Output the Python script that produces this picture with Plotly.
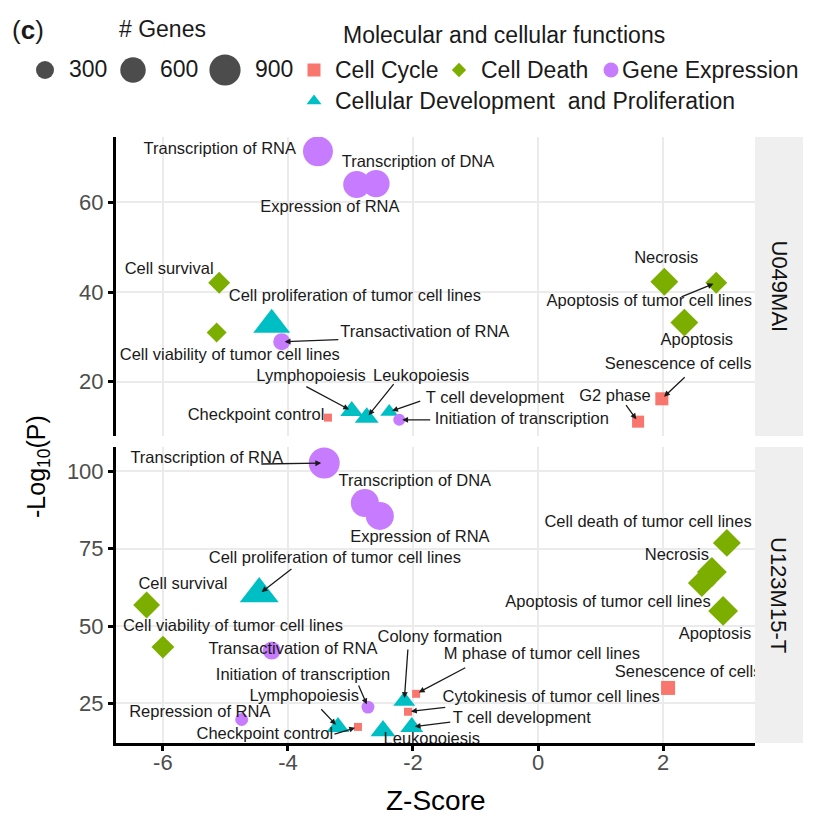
import math
import plotly.graph_objects as go

W, H = 815, 823

# ---------------- data ----------------
functions = ["Cell Cycle", "Cell Death",
             "Cellular Development and Proliferation", "Gene Expression"]
func_colors = ["#F8766D", "#7CAE00", "#00BFC4", "#C77CFF"]
func_symbols = ["square", "diamond", "triangle-up", "circle"]
# relative marker scale per symbol so that shapes of equal gene counts look alike
func_scale = [0.886, 0.72, 1.17, 1.0]

size_breaks = [300, 600, 900]

# U049MAI
u049_term = ["Transcription of RNA", "Transcription of DNA", "Expression of RNA",
             "Cell survival", "Cell viability of tumor cell lines",
             "Cell proliferation of tumor cell lines", "Transactivation of RNA",
             "Lymphopoiesis", "Leukopoiesis", "T cell development",
             "Initiation of transcription", "Checkpoint control", "Necrosis",
             "Apoptosis of tumor cell lines", "Apoptosis", "Senescence of cells",
             "G2 phase"]
u049_func = [3, 3, 3, 1, 1, 2, 3, 2, 2, 2, 3, 0, 1, 1, 1, 0, 0]
u049_z = [-3.52, -2.59, -2.90, -5.10, -5.14, -4.26, -4.10, -2.98, -2.74, -2.38,
          -2.22, -3.36, 2.02, 2.85, 2.34, 1.98, 1.60]
u049_logp = [71.4, 64.2, 64.0, 42.1, 31.0, 32.7, 28.9, 13.5, 12.0, 13.3,
             11.5, 12.0, 42.3, 42.1, 33.2, 16.2, 11.1]
u049_genes = [830, 675, 675, 506, 418, 694, 267, 268, 290, 164,
              133, 75, 820, 506, 820, 200, 170]

# U123M15-T
u123_term = ["Transcription of RNA", "Transcription of DNA", "Expression of RNA",
             "Cell proliferation of tumor cell lines", "Cell survival",
             "Cell viability of tumor cell lines", "Transactivation of RNA",
             "Colony formation", "M phase of tumor cell lines",
             "Initiation of transcription", "Lymphopoiesis",
             "Cytokinesis of tumor cell lines", "Repression of RNA",
             "T cell development", "Checkpoint control", "Leukopoiesis",
             "Cell death of tumor cell lines", "Necrosis",
             "Apoptosis of tumor cell lines", "Apoptosis", "Senescence of cells"]
u123_func = [3, 3, 3, 2, 1, 1, 3, 2, 0, 3, 2, 0, 3, 2, 0, 2, 1, 1, 1, 1, 0]
u123_z = [-3.42, -2.77, -2.53, -4.46, -6.26, -6.00, -4.26, -2.14, -1.95, -2.72,
          -3.20, -2.08, -4.74, -2.02, -2.88, -2.48, 3.02, 2.78, 2.62, 2.96, 2.08]
u123_logp = [102.7, 89.8, 85.6, 60.4, 56.8, 43.2, 42.1, 25.8, 28.1, 23.8,
             17.4, 22.3, 19.8, 17.4, 17.4, 16.1, 76.9, 67.5, 63.9, 54.9, 30.0]
u123_genes = [888, 725, 725, 772, 763, 554, 300, 245, 75, 156,
              268, 75, 156, 268, 75, 317, 820, 941, 820, 941, 231]

# ---------------- label placement (repelled text and leader starts) ----------------
u049_lab_pos = [(-5.09, 71.8), (-1.92, 68.9), (-3.33, 58.9), (-5.90, 45.0),
                (-4.93, 25.8), (-2.93, 39.0), (-1.81, 31.0), (-3.63, 21.1),
                (-1.87, 21.1), (-0.69, 16.2), (-0.26, 11.5), (-4.51, 12.4),
                (2.05, 47.5), (1.78, 37.9), (2.54, 29.2), (2.24, 23.8), (1.23, 16.6)]
u049_lead = [None, None, None, None, None, None, (-3.17, 29.4), (-3.73, 19.1),
             (-2.29, 19.8), (-1.86, 15.8), (-1.70, 11.5), None, None,
             (2.27, 38.8), None, (2.37, 21.3), (1.39, 15.1)]

u123_lab_pos = [(-5.30, 104.0), (-1.97, 96.6), (-1.89, 78.5), (-3.25, 71.7),
                (-5.68, 63.3), (-4.88, 49.7), (-3.92, 42.3), (-1.57, 46.1),
                (0.06, 40.7), (-3.76, 33.9), (-3.74, 27.1), (0.21, 26.8),
                (-5.41, 21.9), (-0.26, 20.0), (-4.37, 14.9), (-1.70, 13.1),
                (1.76, 83.3), (2.22, 72.6), (1.12, 57.4), (2.83, 47.1), (2.40, 34.9)]
u123_lead = [(-4.45, 102.4), None, None, (-3.92, 68.8), None, None, None,
             (-2.08, 42.9), (-1.14, 36.8), (-2.88, 31.3), (-3.49, 23.6),
             (-1.46, 23.8), None, (-1.38, 19.0), (-3.28, 14.9), None,
             None, None, None, None, None]

FONT = "Liberation Sans, Arial, sans-serif"
K_SIZE = 1.04  # px per sqrt(gene)


def marker_px(genes, f):
    return func_scale[f] * K_SIZE * math.sqrt(genes)


fig = go.Figure()

panels = [
    ("x", "y", u049_term, u049_func, u049_z, u049_logp, u049_genes, u049_lab_pos, u049_lead),
    ("x2", "y2", u123_term, u123_func, u123_z, u123_logp, u123_genes, u123_lab_pos, u123_lead),
]

annotations = []
for xa, ya, term, func, z, lp, genes, lab, lead in panels:
    for f in range(len(functions)):
        idx = [i for i in range(len(term)) if func[i] == f]
        if not idx:
            continue
        fig.add_trace(go.Scatter(
            x=[z[i] for i in idx], y=[lp[i] for i in idx],
            xaxis=xa, yaxis=ya, mode="markers",
            marker=dict(symbol=func_symbols[f], color=func_colors[f],
                        size=[marker_px(genes[i], f) for i in idx],
                        line=dict(width=0), opacity=1),
            text=[term[i] for i in idx], hoverinfo="text", showlegend=False,
        ))
    fig.add_trace(go.Scatter(
        x=[p[0] for p in lab], y=[p[1] for p in lab], xaxis=xa, yaxis=ya,
        mode="text", text=term, textposition="middle center",
        textfont=dict(family=FONT, size=16.5, color="#1A1A1A"),
        cliponaxis=True, hoverinfo="skip", showlegend=False,
    ))
    for i, st in enumerate(lead):
        if st is None:
            continue
        annotations.append(dict(
            x=z[i], y=lp[i], xref=xa, yref=ya,
            ax=st[0], ay=st[1], axref=xa, ayref=ya,
            text="", showarrow=True, arrowhead=2, arrowsize=0.9,
            arrowwidth=1.3, arrowcolor="#1A1A1A", standoff=3,
        ))

# ---------------- legends (drawn on a full-page overlay axis) ----------------
fig.add_trace(go.Scatter(
    x=[45, 133, 225], y=[70, 70, 70], xaxis="x3", yaxis="y3", mode="markers",
    marker=dict(symbol="circle", color="black",
                size=[marker_px(b, 3) for b in size_breaks], line=dict(width=0)),
    hoverinfo="skip", showlegend=False,
))
key_pos = [(314, 70), (459, 70), (314, 101), (611, 70)]
key_size = [13, 11, 13, 15]
for f in range(len(functions)):
    fig.add_trace(go.Scatter(
        x=[key_pos[f][0]], y=[key_pos[f][1]], xaxis="x3", yaxis="y3", mode="markers",
        marker=dict(symbol=func_symbols[f], color=func_colors[f],
                    size=key_size[f], line=dict(width=0)),
        hoverinfo="skip", showlegend=False,
    ))


def page_text(txt, px, py, size=23, anchor="left", angle=0, color="#1A1A1A"):
    annotations.append(dict(
        text=txt, x=px / W, y=1 - py / H, xref="paper", yref="paper",
        xanchor=anchor, yanchor="middle", showarrow=False, textangle=angle,
        font=dict(family=FONT, size=size, color=color),
    ))


page_text("(<b>c</b>)", 10, 30, size=26)
page_text("# Genes", 117, 29)
for b, px in zip(size_breaks, [67, 158, 253]):
    page_text(str(b), px, 69)
page_text("Molecular and cellular functions", 341, 35)
page_text("Cell Cycle", 333, 70)
page_text("Cell Death", 479, 70)
page_text("Gene Expression", 620, 70)
page_text("Cellular Development\u00a0 and Proliferation", 333, 101)

# axis titles
page_text("Z-Score", 436, 800, size=28, anchor="center", color="black")
page_text("-Log<sub>10</sub>(P)", 38, 467, size=25, anchor="center", angle=-90, color="black")

# facet strips
strip_x0, strip_x1 = 755, 803
shapes = []
for (y0, y1), name in zip([(137, 436), (447, 743)], ["U049MAI", "U123M15-T"]):
    shapes.append(dict(type="rect", xref="paper", yref="paper",
                       x0=strip_x0 / W, x1=strip_x1 / W,
                       y0=1 - y1 / H, y1=1 - y0 / H,
                       fillcolor="#EFEFEF", line=dict(width=0), layer="below"))
    page_text(name, (strip_x0 + strip_x1) / 2, (y0 + y1) / 2, size=22,
              anchor="center", angle=90, color="#111111")

XD = [116 / W, 755 / W]
XR = [-6.75, 3.47]
grid = dict(showgrid=True, gridcolor="#EBEBEB", gridwidth=1.5, zeroline=False)
tickfont = dict(family=FONT, size=22, color="#4D4D4D")

fig.update_layout(
    width=W, height=H, margin=dict(l=0, r=0, t=0, b=0),
    paper_bgcolor="white", plot_bgcolor="rgba(0,0,0,0)",
    font=dict(family=FONT),
    showlegend=False,
    annotations=annotations, shapes=shapes,
    xaxis=dict(domain=XD, range=XR, anchor="y", tickvals=[-6, -4, -2, 0, 2],
               showticklabels=False, ticks="", showline=False, **grid),
    yaxis=dict(domain=[1 - 436 / H, 1 - 137 / H], range=[7.9, 74.6], anchor="x",
               tickvals=[20, 40, 60], ticks="outside", ticklen=5, tickwidth=2.5,
               tickcolor="black", showline=True, linecolor="black", linewidth=3,
               tickfont=tickfont, **grid),
    xaxis2=dict(domain=XD, range=XR, anchor="y2", tickvals=[-6, -4, -2, 0, 2],
                ticktext=["-6", "-4", "-2", "0", "2"],
                ticks="outside", ticklen=5, tickwidth=2.5, tickcolor="black",
                ticklabelstandoff=-7,
                showline=True, linecolor="black", linewidth=3,
                tickfont=tickfont, **grid),
    yaxis2=dict(domain=[1 - 743 / H, 1 - 447 / H], range=[12.2, 107.9], anchor="x2",
                tickvals=[25, 50, 75, 100], ticks="outside", ticklen=5, tickwidth=2.5,
                tickcolor="black", showline=True, linecolor="black", linewidth=3,
                tickfont=tickfont, **grid),
    xaxis3=dict(domain=[0, 1], range=[0, W], anchor="y3", visible=False, fixedrange=True),
    yaxis3=dict(domain=[0, 1], range=[H, 0], anchor="x3", visible=False, fixedrange=True),
)

fig.write_html("out.html", config={"displayModeBar": False})
